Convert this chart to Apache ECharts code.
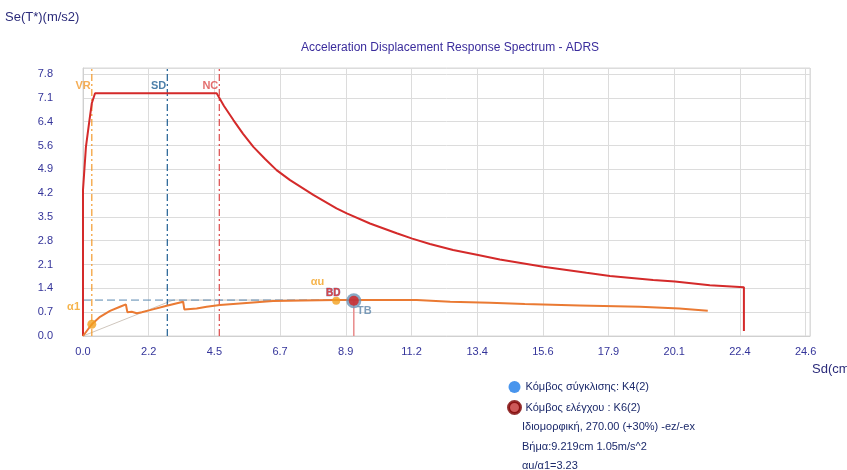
<!DOCTYPE html>
<html>
<head>
<meta charset="utf-8">
<script src="https://cdn.jsdelivr.net/npm/echarts@6/dist/echarts.min.js"></script>
<style>html,body{margin:0;padding:0;background:#fff}#chart{width:847px;height:470px}</style>
</head>
<body>
<div id="chart"></div>
<script>
// ---- data ----
var xTickLabels = ['0.0','2.2','4.5','6.7','8.9','11.2','13.4','15.6','17.9','20.1','22.4','24.6'];
var yTickLabels = ['0.0','0.7','1.4','2.1','2.8','3.5','4.2','4.9','5.6','6.4','7.1','7.8'];
// demand spectrum (red)
var demandCurve = [[0,0],[0,4.35],[0.1,5.63],[0.22,6.43],[0.3,6.93],[0.41,7.23],[4.55,7.23],[4.8,6.85],[5.12,6.43],[5.45,6.02],[5.80,5.63],[6.2,5.27],[6.59,4.94],[7.05,4.64],[7.84,4.20],[8.63,3.80],[8.98,3.65],[9.77,3.35],[10.68,3.06],[11.21,2.90],[11.81,2.74],[12.6,2.56],[13.45,2.41],[14.19,2.28],[15.67,2.06],[17.14,1.88],[17.94,1.79],[19.41,1.67],[20.15,1.62],[21.34,1.51],[22.5,1.45],[22.5,0.15]];
// capacity (pushover) curve (orange)
var capacityCurve = [[0,0],[0.3,0.35],[0.58,0.57],[0.92,0.75],[1.26,0.87],[1.46,0.94],[1.51,0.71],[1.66,0.72],[1.83,0.68],[2.0,0.71],[2.28,0.77],[2.85,0.9],[3.41,1.02],[3.45,0.79],[3.87,0.82],[4.21,0.87],[4.66,0.92],[5.34,0.97],[6.47,1.04],[7.5,1.06],[8.62,1.07],[11.36,1.07],[11.4,1.04],[12.5,1.02],[13.85,0.99],[15.04,0.95],[16.9,0.91],[18.96,0.87],[20.3,0.82],[21.27,0.75]];
var bilinear = [[0,0],[3.07,1.07],[8.62,1.07]];
var auLevel = [[0,1.07],[8.62,1.07]];
var limitNames = ['VR','SD','NC'];
var limitSd = [0.3, 2.87, 4.64];
var a1Point = [0.3, 0.35];
var bdPoint = [8.62, 1.05];
var tbPoint = [9.219, 1.05];
var infoLines = ['Ιδιομορφική, 270.00 (+30%) -ez/-ex','Βήμα:9.219cm 1.05m/s^2','αu/α1=3.23'];

var X_INT = 24.6/11, Y_INT = 7.8/11, X_MAX = 24.75, Y_MAX = 7.98;
var FONT = "'Liberation Sans', Arial, sans-serif";
var TXT = '#1c2a6b';
var limitColors = ['#f39a2c','#1f5f93','#dc4a4a'];

function fmt(labels, step){
  return function(v){
    var i = Math.round(v/step);
    if (Math.abs(v - i*step) > 1e-6 || i >= labels.length) return '';
    return labels[i];
  };
}

var series = [];
series.push({type:'line', data:bilinear, symbol:'none', silent:true, z:2,
  lineStyle:{color:'#cfc6bd', width:1}});
series.push({type:'line', data:auLevel, symbol:'none', silent:true, z:2,
  lineStyle:{color:'#5a88b0', width:1, type:[8,4]}});
limitSd.forEach(function(sd, i){
  series.push({type:'line', data:[[sd,0],[sd,Y_MAX]], symbol:'none', silent:true, z:3,
    lineStyle:{color:limitColors[i], width:1.2, type:[7,3,2,3]}});
  series.push({type:'scatter', data:[[sd,7.45]], symbolSize:0, silent:true, z:6,
    label:{show:true, formatter:limitNames[i], position:'left', distance:1,
      color:limitColors[i], fontWeight:'bold', fontSize:11, fontFamily:FONT}});
});
series.push({type:'line', data:demandCurve, symbol:'none', z:4,
  lineStyle:{color:'#d42a2a', width:2}});
series.push({type:'line', data:capacityCurve, symbol:'none', z:5,
  lineStyle:{color:'#ea7a33', width:2}});
series.push({type:'line', data:[[tbPoint[0],0],[tbPoint[0],tbPoint[1]]], symbol:'none', z:4,
  lineStyle:{color:'#e98a8a', width:1.5}});
series.push({type:'scatter', data:[a1Point], symbolSize:9, z:7, itemStyle:{color:'#f2a01e'}});
series.push({type:'scatter', data:[[0,0.86]], symbolSize:0, z:7,
  label:{show:true, formatter:'α1', position:'left', distance:3, color:'#f2a01e', fontWeight:'bold', fontSize:11, fontFamily:FONT}});
series.push({type:'scatter', data:[bdPoint], symbolSize:8, z:7, itemStyle:{color:'#f2a01e'}});
series.push({type:'scatter', data:[[8.52,1.27]], symbolSize:0, z:8,
  label:{show:true, formatter:'BD', position:'inside', color:'#d42020', fontWeight:'bold', fontSize:10, fontFamily:FONT,
    textBorderColor:'#6a5a9a', textBorderWidth:0.6}});
series.push({type:'scatter', data:[[7.98,1.62]], symbolSize:0, z:8,
  label:{show:true, formatter:'αu', position:'inside', color:'#f2a01e', fontWeight:'bold', fontSize:11, fontFamily:FONT}});
series.push({type:'scatter', name:'Κόμβος σύγκλισης: K4(2)', data:[tbPoint], symbolSize:15, z:9,
  itemStyle:{color:'#6b93b6'}});
series.push({type:'scatter', name:'Κόμβος ελέγχου : K6(2)', data:[tbPoint], symbolSize:10, z:10,
  itemStyle:{color:'#d42020'}});
series.push({type:'scatter', data:[[9.58,0.75]], symbolSize:0, z:8,
  label:{show:true, formatter:'TB', position:'inside', color:'#5b85aa', fontWeight:'bold', fontSize:11, fontFamily:FONT}});

var graphics = [
  {type:'text', left:5, top:11, style:{text:'Se(T*)(m/s2)', fill:'#2b2b7a', font:'13px '+FONT}},
  {type:'text', left:812, top:363, style:{text:'Sd(cm)', fill:'#2b2b7a', font:'13px '+FONT}}
];
infoLines.forEach(function(t, i){
  graphics.push({type:'text', left:522, top:[421,441,460][i], style:{text:t, fill:TXT, font:'11px '+FONT}});
});

var chart = echarts.init(document.getElementById('chart'));
chart.setOption({
  backgroundColor:'#fff',
  animation:false,
  title:{text:'Acceleration Displacement Response Spectrum - ADRS', left:296, top:37,
    textStyle:{fontSize:12, fontWeight:'normal', color:'#3a2c9c', fontFamily:FONT}},
  grid:{left:83, right:37, top:68, bottom:134, show:true, borderColor:'#d8d8d8', borderWidth:1},
  legend:{orient:'vertical', left:502, top:376, itemWidth:12, itemHeight:12, itemGap:7,
    textStyle:{color:TXT, fontSize:11, fontFamily:FONT},
    data:[
      {name:'Κόμβος σύγκλισης: K4(2)', icon:'circle', itemStyle:{color:'#1a7ae8', borderWidth:0}},
      {name:'Κόμβος ελέγχου : K6(2)', icon:'circle', itemStyle:{color:'#c03030', borderColor:'#7a0000', borderWidth:3}}
    ]},
  xAxis:{type:'value', min:0, max:X_MAX, interval:X_INT,
    axisLine:{show:true, lineStyle:{color:'#d0d0d0'}}, axisTick:{show:false},
    splitLine:{show:true, lineStyle:{color:'#dcdcdc', width:1}},
    axisLabel:{formatter:fmt(xTickLabels, X_INT), color:'#34349a', fontSize:11, fontFamily:FONT, margin:10, showMaxLabel:false}},
  yAxis:{type:'value', min:0, max:Y_MAX, interval:Y_INT,
    axisLine:{show:true, lineStyle:{color:'#d0d0d0'}}, axisTick:{show:false},
    splitLine:{show:true, lineStyle:{color:'#dcdcdc', width:1}},
    axisLabel:{formatter:fmt(yTickLabels, Y_INT), color:'#34349a', fontSize:11, fontFamily:FONT, margin:30, padding:[0,0,4,0], showMaxLabel:false}},
  graphic:graphics,
  series:series
});
</script>
</body>
</html>
